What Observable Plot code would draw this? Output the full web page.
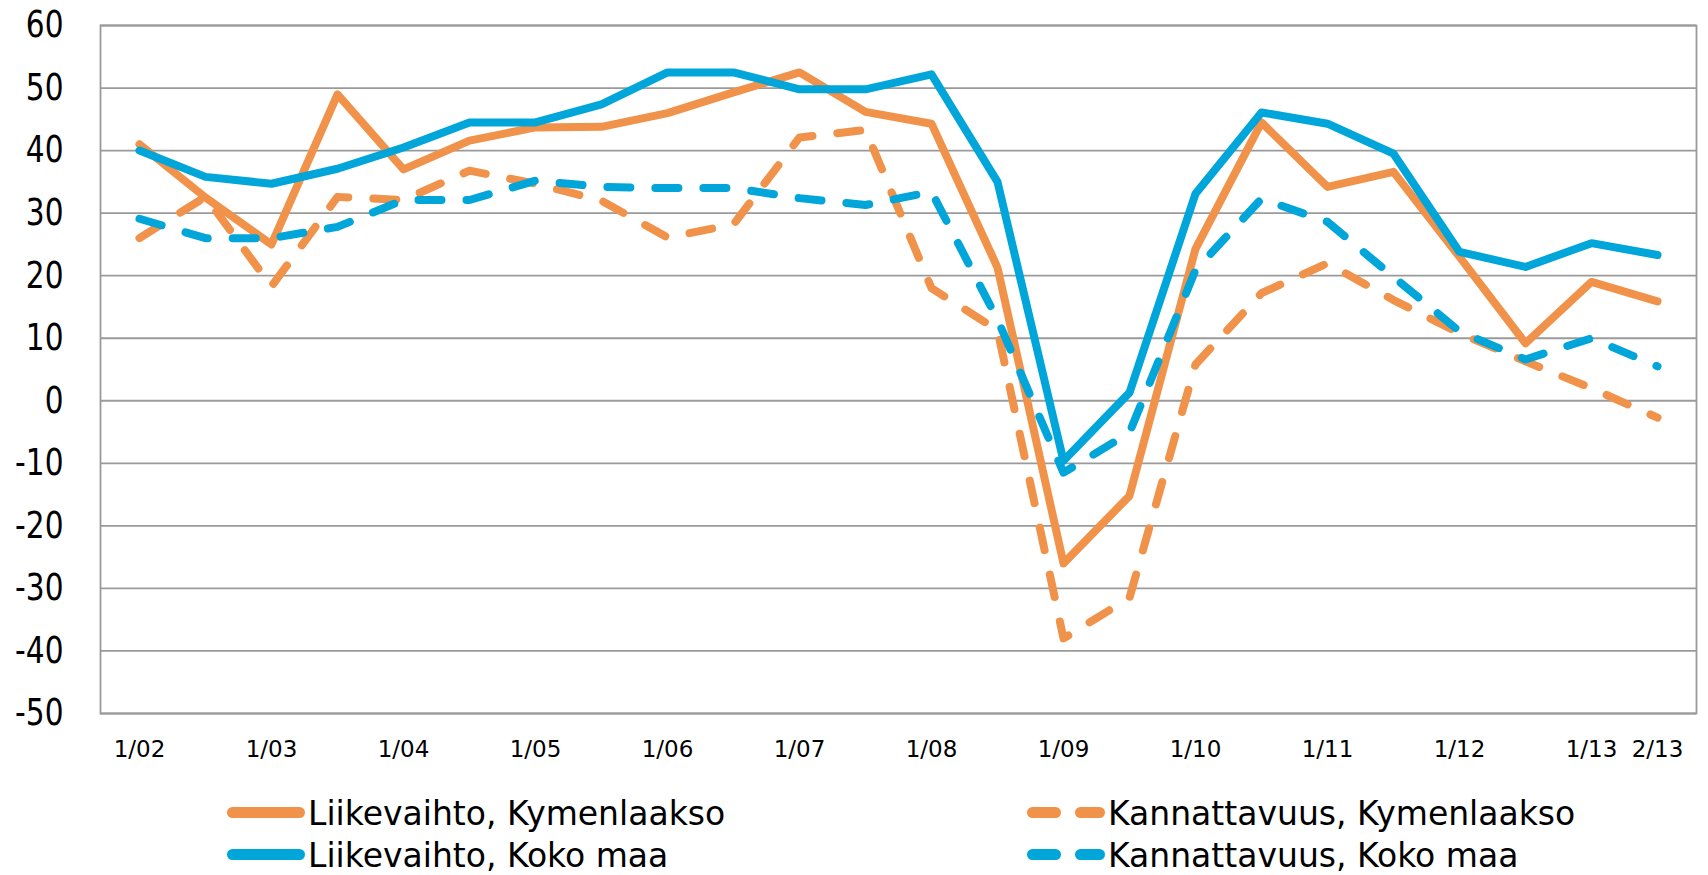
<!DOCTYPE html>
<html>
<head>
<meta charset="utf-8">
<script src="https://cdn.jsdelivr.net/npm/d3@7"></script>
<script src="https://cdn.jsdelivr.net/npm/@observablehq/plot@0.6"></script>
<style>
  html, body { margin: 0; padding: 0; background: #fff; overflow: hidden; }
  #chart svg { display: block; }
  #legend { display: block; }
</style>
</head>
<body>
<div id="chart"></div>
<script>
// Half-year survey periods
const categories = [
  "1/02","2/02","1/03","2/03","1/04","2/04","1/05","2/05","1/06","2/06",
  "1/07","2/07","1/08","2/08","1/09","2/09","1/10","2/10","1/11","2/11",
  "1/12","2/12","1/13","2/13"
];
const xTickLabels = ["1/02","1/03","1/04","1/05","1/06","1/07","1/08","1/09","1/10","1/11","1/12","1/13","2/13"];
const yTicks = [-50,-40,-30,-20,-10,0,10,20,30,40,50,60];

const seriesNames = [
  "Liikevaihto, Kymenlaakso",
  "Kannattavuus, Kymenlaakso",
  "Liikevaihto, Koko maa",
  "Kannattavuus, Koko maa"
];
const liikevaihtoKymenlaakso = [41, 32.5, 25, 49, 37, 41.6, 43.7, 43.8, 46, 49.3, 52.5, 46.2, 44.3, 21.3, -26, -15.2, 24.3, 44.5, 34.2, 36.6, 23, 9.2, 19, 15.9];
const kannattavuusKymenlaakso = [26, 32.6, 18.3, 32.6, 32.1, 36.8, 34.7, 32, 26.1, 28.2, 42.1, 43.3, 18, 11.3, -38, -31.5, 5.8, 17.2, 22, 16.1, 10.8, 6.3, 2, -2.7];
const liikevaihtoKokoMaa = [40, 35.8, 34.7, 37.1, 40.5, 44.5, 44.5, 47.4, 52.5, 52.5, 49.8, 49.8, 52.2, 35, -9.6, 1.3, 33.1, 46.1, 44.3, 39.5, 23.8, 21.4, 25.2, 23.3];
const kannattavuusKokoMaa = [29.1, 26, 26, 27.8, 32.1, 32.1, 35.2, 34.2, 34, 34, 32.4, 31.3, 33.4, 13, -11.5, -5.1, 20.9, 32.3, 28.6, 19.8, 11.1, 6.6, 10, 5.5];

const orange = "#F0924A";
const blue = "#00A5DA";
const dash = "23,25";

const seriesDefs = [
  {name: seriesNames[0], values: liikevaihtoKymenlaakso, color: orange, dashed: false},
  {name: seriesNames[1], values: kannattavuusKymenlaakso, color: orange, dashed: true},
  {name: seriesNames[2], values: liikevaihtoKokoMaa, color: blue, dashed: false},
  {name: seriesNames[3], values: kannattavuusKokoMaa, color: blue, dashed: true}
];

const lineMarks = seriesDefs.map(s => {
  const rows = s.values.map((v, i) => ({period: categories[i], value: v}));
  return Plot.line(rows, {
    x: "period", y: "value",
    stroke: s.color, strokeWidth: 8,
    strokeLinecap: "round", strokeLinejoin: "round",
    strokeDasharray: s.dashed ? dash : null
  });
});

const plot = Plot.plot({
  width: 1708,
  height: 775,
  marginLeft: 100,
  marginRight: 12,
  marginTop: 25,
  marginBottom: 62,
  style: {fontFamily: "'DejaVu Sans', sans-serif", fontSize: "23px", color: "#000", background: "#fff"},
  x: {type: "point", domain: categories, padding: 0.5, ticks: xTickLabels, tickSize: 0, tickPadding: 27, label: null},
  y: {domain: [-50, 60], ticks: yTicks, tickSize: 0, tickPadding: 37, label: null, tickFormat: d => String(d)},
  marks: [
    Plot.ruleY(yTicks, {stroke: "#9a9a9a", strokeWidth: 1.8}),
    Plot.frame({stroke: "#9a9a9a", strokeWidth: 1.8}),
    ...lineMarks
  ]
});
document.getElementById("chart").appendChild(plot);

// Y-axis labels: larger, condensed look
d3.select(plot).selectAll('g[aria-label="y-axis tick label"] text, g[aria-label="y-axis"] text')
  .attr("font-size", 37)
  .each(function() {
    const len = this.getComputedTextLength();
    this.setAttribute("textLength", (len * 0.8).toFixed(1));
    this.setAttribute("lengthAdjust", "spacingAndGlyphs");
  });

// Legend below the chart
const legendItems = [
  {name: seriesNames[0], color: orange, dashed: false, x: 224, y: 50},
  {name: seriesNames[1], color: orange, dashed: true, x: 1024, y: 50},
  {name: seriesNames[2], color: blue, dashed: false, x: 224, y: 92},
  {name: seriesNames[3], color: blue, dashed: true, x: 1024, y: 92}
];
const leg = d3.select("body").append("svg")
  .attr("id", "legend")
  .attr("width", 1708).attr("height", 100)
  .style("font-family", "'DejaVu Sans', sans-serif");
legendItems.forEach(it => {
  leg.append("line")
    .attr("x1", it.x + 8.5).attr("x2", it.x + 75.5)
    .attr("y1", it.y - 12.5).attr("y2", it.y - 12.5)
    .attr("stroke", it.color).attr("stroke-width", 11)
    .attr("stroke-linecap", "round")
    .attr("stroke-dasharray", it.dashed ? dash : null);
  leg.append("text")
    .attr("x", it.x + 84).attr("y", it.y)
    .attr("font-size", 33).attr("fill", "#000")
    .text(it.name);
});
</script>
</body>
</html>
